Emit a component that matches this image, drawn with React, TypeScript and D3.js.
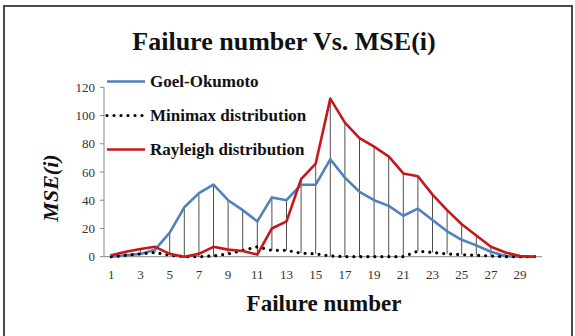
import React from 'react';
import * as d3 from 'd3';

// failure index 1..30
const failures = d3.range(1, 31);

const goelOkumoto = [0, 1, 2, 5, 17, 35, 45, 51, 40, 33, 25, 42, 40, 51, 51, 69, 56, 46, 40, 36, 29, 34, 26, 18, 12, 8, 3.5, 0.5, 0, 0];
const minimax = [0, 1, 2, 3, 1, 0, 0, 0.5, 2, 4.5, 7, 4.5, 4.5, 2.5, 2, 0.5, 0, 0, 0, 0, 0, 4, 3, 2, 1.5, 1, 0.5, 0, 0, 0];
const rayleigh = [1, 3.5, 5.5, 7, 2, 0, 2, 7, 5, 4, 1.5, 20, 25, 55, 66, 112, 95, 84, 78, 71, 59, 57, 44, 33, 23, 15, 7, 3, 0.5, 0];

const yTicks = [0, 20, 40, 60, 80, 100, 120];
const xTickLabels = failures.filter(d => d % 2 === 1);

const series = [
  { name: 'Goel-Okumoto', values: goelOkumoto, color: '#4f81bd', dotted: false },
  { name: 'Minimax distribution', values: minimax, color: '#000000', dotted: true },
  { name: 'Rayleigh distribution', values: rayleigh, color: '#c8161d', dotted: false },
];

const W = 575, H = 336;
const plot = { left: 104, right: 542, top: 87.3, bottom: 256.7 };
const serif = '"Liberation Serif", "Times New Roman", serif';

export default function App() {
  const x = d3.scaleBand<number>().domain(failures).range([plot.left, plot.right]);
  const y = d3.scaleLinear().domain([0, 120]).range([plot.bottom, plot.top]);
  const cx = (d: number) => (x(d) as number) + x.bandwidth() / 2;

  const line = d3.line<number>()
    .x((_, i) => cx(failures[i]))
    .y(v => y(v));

  // high-low lines: from the highest to the lowest series value at each failure
  const hiLo = failures.map((f, i) => {
    const vals = series.map(s => s.values[i]);
    return { f, hi: d3.max(vals) as number, lo: d3.min(vals) as number };
  });

  return (
    <svg width={W} height={H} style={{ position: 'absolute', left: 0, top: 0 }}>
      <rect x={0} y={0} width={W} height={H} fill="#fff" />
      <rect x={4} y={6} width={568} height={340} fill="none" stroke="#4a4a4a" strokeWidth={2} />

      <text x={284} y={50} textAnchor="middle" fontFamily={serif} fontWeight="bold" fontSize={26} fill="#111">
        Failure number Vs. MSE(i)
      </text>

      {/* axes */}
      <line x1={plot.left} x2={plot.left} y1={plot.top} y2={plot.bottom} stroke="#888" />
      <line x1={plot.left} x2={plot.right} y1={plot.bottom} y2={plot.bottom} stroke="#888" />
      {yTicks.map(t => (
        <g key={t}>
          <line x1={plot.left - 4} x2={plot.left} y1={y(t)} y2={y(t)} stroke="#888" />
          <text x={95} y={y(t) + 4.5} textAnchor="end" fontFamily={serif} fontSize={13} fill="#333">{t}</text>
        </g>
      ))}
      {xTickLabels.map(f => (
        <text key={f} x={cx(f)} y={279} textAnchor="middle" fontFamily={serif} fontSize={13} fill="#333">{f}</text>
      ))}

      {hiLo.map(d => (
        <line key={d.f} x1={cx(d.f)} x2={cx(d.f)} y1={y(d.hi)} y2={y(d.lo)} stroke="#222" strokeWidth={0.8} />
      ))}

      {series.map(s => (
        <path key={s.name} d={line(s.values) as string} fill="none" stroke={s.color}
          strokeWidth={s.dotted ? 3.2 : 2.6} strokeLinecap="round" strokeLinejoin="round"
          strokeDasharray={s.dotted ? '0 7' : undefined} />
      ))}

      {/* legend */}
      {series.map((s, i) => {
        const ly = 81.5 + i * 34;
        return (
          <g key={s.name}>
            <line x1={107} x2={145} y1={ly} y2={ly} stroke={s.color} strokeWidth={s.dotted ? 3.2 : 2.6}
              strokeLinecap={s.dotted ? 'round' : 'butt'} strokeDasharray={s.dotted ? '0 7' : undefined} />
            <text x={150} y={ly + 5.5} fontFamily={serif} fontWeight="bold" fontSize={17} fill="#111">{s.name}</text>
          </g>
        );
      })}

      <text transform="translate(58,188) rotate(-90)" textAnchor="middle" fontFamily={serif}
        fontWeight="bold" fontStyle="italic" fontSize={22} fill="#111">MSE(i)</text>

      <text x={324} y={311} textAnchor="middle" fontFamily={serif} fontWeight="bold" fontSize={23} fill="#111">
        Failure number
      </text>
    </svg>
  );
}
